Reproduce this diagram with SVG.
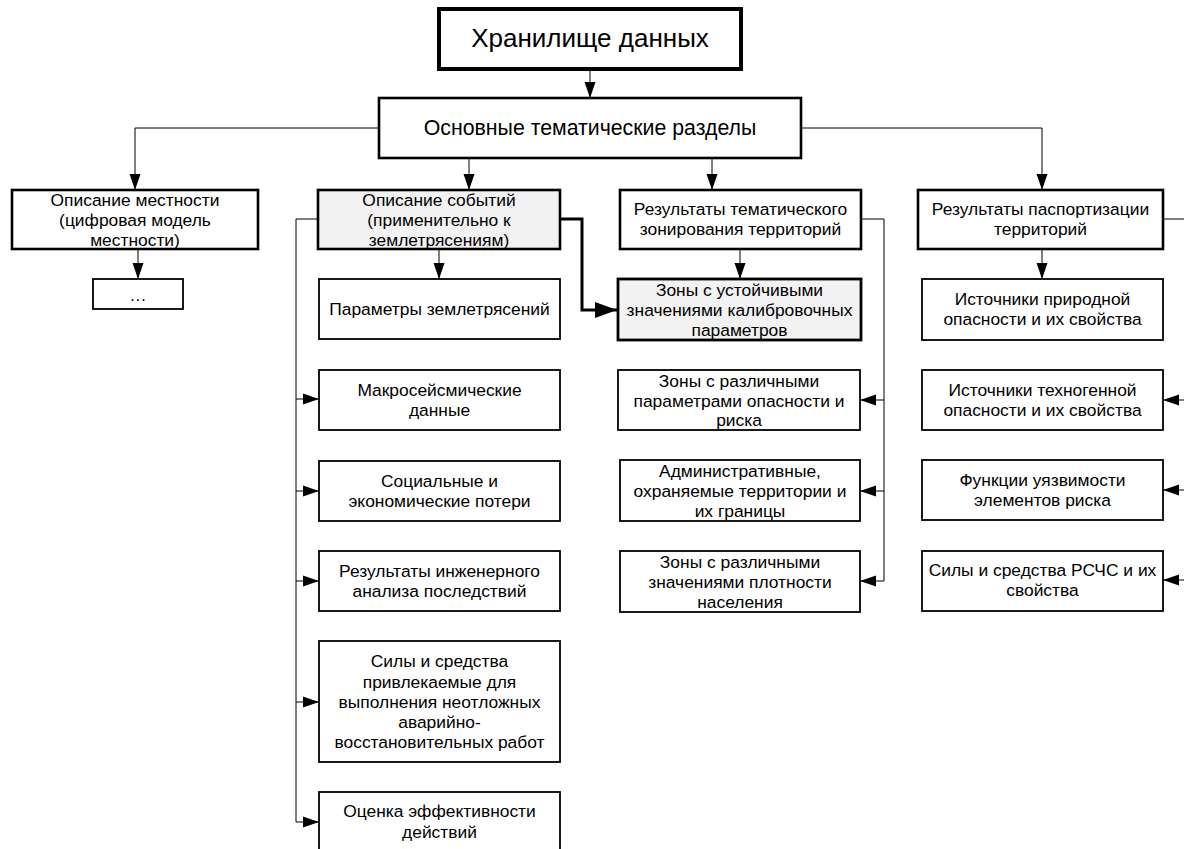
<svg xmlns="http://www.w3.org/2000/svg" width="1184" height="849" viewBox="0 0 1184 849">
<style>
  text { font-family: "Liberation Sans", Arial, sans-serif; fill: #000; text-anchor: middle; }
  .t17 { font-size: 17.4px; }
  .box { fill: #fff; stroke: #000; stroke-width: 1.8; }
  .lvl { fill: #fff; stroke: #000; stroke-width: 2.6; }
  .gray { fill: #f2f2f2; }
  .conn { fill: none; stroke: #000; stroke-width: 1; }
  .thick { fill: none; stroke: #000; stroke-width: 3; }
</style>
<defs>
  <marker id="arr" markerUnits="userSpaceOnUse" markerWidth="16" markerHeight="12" refX="16" refY="6" orient="auto">
    <path d="M0,0.5 L16,6 L0,11.5 z" fill="#000"/>
  </marker>
  <marker id="arrBig" markerUnits="userSpaceOnUse" markerWidth="22" markerHeight="16" refX="22" refY="8" orient="auto">
    <path d="M0,0 L22,8 L0,16 z" fill="#000"/>
  </marker>
</defs>
<rect width="1184" height="849" fill="#fff"/>

<g id="connectors">
  <path class="conn" d="M590,70 V98" marker-end="url(#arr)"/>
  <path class="conn" d="M378,128 H135 V190" marker-end="url(#arr)"/>
  <path class="conn" d="M801,128 H1042 V190" marker-end="url(#arr)"/>
  <path class="conn" d="M469,158 V190" marker-end="url(#arr)"/>
  <path class="conn" d="M712,158 V190" marker-end="url(#arr)"/>
  <path class="conn" d="M138,249 V279" marker-end="url(#arr)"/>
  <path class="conn" d="M439,249 V279" marker-end="url(#arr)"/>
  <path class="conn" d="M740,249 V279" marker-end="url(#arr)"/>
  <path class="conn" d="M1042,249 V279" marker-end="url(#arr)"/>
  <path class="conn" d="M318,219 H296 V822"/>
  <path class="conn" d="M296,399 H319" marker-end="url(#arr)"/>
  <path class="conn" d="M296,491 H319" marker-end="url(#arr)"/>
  <path class="conn" d="M296,581 H319" marker-end="url(#arr)"/>
  <path class="conn" d="M296,702 H319" marker-end="url(#arr)"/>
  <path class="conn" d="M296,822 H319" marker-end="url(#arr)"/>
  <path class="thick" d="M560,219 H582 V310 H617" marker-end="url(#arrBig)"/>
  <path class="conn" d="M861,219 H884 V581"/>
  <path class="conn" d="M884,400 H860" marker-end="url(#arr)"/>
  <path class="conn" d="M884,491 H860" marker-end="url(#arr)"/>
  <path class="conn" d="M884,581 H860" marker-end="url(#arr)"/>
  <path class="conn" d="M1163,219 H1192 V580"/>
  <path class="conn" d="M1192,400 H1163" marker-end="url(#arr)"/>
  <path class="conn" d="M1192,490 H1163" marker-end="url(#arr)"/>
  <path class="conn" d="M1192,580 H1163" marker-end="url(#arr)"/>
</g>

<g id="n-storage">
  <rect x="439" y="9" width="302" height="60" fill="#fff" stroke="#000" stroke-width="4"/>
  <text x="590" y="47" style="font-size:26px">Хранилище данных</text>
</g>
<g id="n-main">
  <rect class="lvl" x="379" y="98" width="422" height="60"/>
  <text x="590" y="135" style="font-size:21.3px">Основные тематические разделы</text>
</g>

<g id="n-terrain">
  <rect class="lvl" x="12" y="190" width="246" height="59"/>
  <text class="t17" x="135" y="206">Описание местности</text>
  <text class="t17" x="135" y="226">(цифровая модель</text>
  <text class="t17" x="135" y="246">местности)</text>
</g>
<g id="n-dots">
  <rect class="box" x="93" y="279" width="90" height="30"/>
  <text class="t17" x="138" y="301">…</text>
</g>

<g id="n-events">
  <rect class="lvl gray" x="318" y="190" width="242" height="59"/>
  <text class="t17" x="439" y="206">Описание событий</text>
  <text class="t17" x="439" y="226">(применительно к</text>
  <text class="t17" x="439" y="246">землетрясениям)</text>
</g>
<g id="n-eq-params">
  <rect class="box" x="319" y="279" width="241" height="60"/>
  <text class="t17" x="439.5" y="315">Параметры землетрясений</text>
</g>
<g id="n-macro">
  <rect class="box" x="319" y="370" width="241" height="60"/>
  <text class="t17" x="439.5" y="395.5">Макросейсмические</text>
  <text class="t17" x="439.5" y="416">данные</text>
</g>
<g id="n-losses">
  <rect class="box" x="319" y="461" width="241" height="60"/>
  <text class="t17" x="439.5" y="487">Социальные и</text>
  <text class="t17" x="439.5" y="507">экономические потери</text>
</g>
<g id="n-eng">
  <rect class="box" x="319" y="551" width="241" height="60"/>
  <text class="t17" x="439.5" y="577">Результаты инженерного</text>
  <text class="t17" x="439.5" y="597">анализа последствий</text>
</g>
<g id="n-forces">
  <rect class="box" x="319" y="641" width="241" height="121"/>
  <text class="t17" x="439.5" y="667">Силы и средства</text>
  <text class="t17" x="439.5" y="687.5">привлекаемые для</text>
  <text class="t17" x="439.5" y="707.5">выполнения неотложных</text>
  <text class="t17" x="439.5" y="727.5">аварийно-</text>
  <text class="t17" x="439.5" y="748">восстановительных работ</text>
</g>
<g id="n-eff">
  <rect class="box" x="319" y="792" width="241" height="62"/>
  <text class="t17" x="439.5" y="817">Оценка эффективности</text>
  <text class="t17" x="439.5" y="838">действий</text>
</g>

<g id="n-zoning">
  <rect class="lvl" x="620" y="190" width="241" height="59"/>
  <text class="t17" x="740.5" y="215">Результаты тематического</text>
  <text class="t17" x="740.5" y="235">зонирования территорий</text>
</g>
<g id="n-calib">
  <rect class="lvl gray" x="618" y="279" width="243" height="61" style="stroke-width:2.8"/>
  <text class="t17" x="739.5" y="296">Зоны с устойчивыми</text>
  <text class="t17" x="739.5" y="316">значениями калибровочных</text>
  <text class="t17" x="739.5" y="335.5">параметров</text>
</g>
<g id="n-hazard">
  <rect class="box" x="618" y="370" width="242" height="60"/>
  <text class="t17" x="739" y="387">Зоны с различными</text>
  <text class="t17" x="739" y="406.5">параметрами опасности и</text>
  <text class="t17" x="739" y="426">риска</text>
</g>
<g id="n-admin">
  <rect class="box" x="620" y="460" width="240" height="61"/>
  <text class="t17" x="740" y="477">Административные,</text>
  <text class="t17" x="740" y="497">охраняемые территории и</text>
  <text class="t17" x="740" y="517">их границы</text>
</g>
<g id="n-density">
  <rect class="box" x="620" y="551" width="240" height="61"/>
  <text class="t17" x="740" y="567.5">Зоны с различными</text>
  <text class="t17" x="740" y="587.5">значениями плотности</text>
  <text class="t17" x="740" y="607.5">населения</text>
</g>

<g id="n-passport">
  <rect class="lvl" x="918" y="190" width="245" height="59"/>
  <text class="t17" x="1040.5" y="215">Результаты паспортизации</text>
  <text class="t17" x="1040.5" y="235">территорий</text>
</g>
<g id="n-natural">
  <rect class="box" x="922" y="279" width="241" height="61"/>
  <text class="t17" x="1042.5" y="305">Источники природной</text>
  <text class="t17" x="1042.5" y="325">опасности и их свойства</text>
</g>
<g id="n-tech">
  <rect class="box" x="922" y="370" width="241" height="60"/>
  <text class="t17" x="1042.5" y="395.5">Источники техногенной</text>
  <text class="t17" x="1042.5" y="416">опасности и их свойства</text>
</g>
<g id="n-vuln">
  <rect class="box" x="922" y="460" width="241" height="60"/>
  <text class="t17" x="1042.5" y="486">Функции уязвимости</text>
  <text class="t17" x="1042.5" y="506">элементов риска</text>
</g>
<g id="n-rschs">
  <rect class="box" x="922" y="551" width="241" height="60"/>
  <text class="t17" x="1042.5" y="576">Силы и средства РСЧС и их</text>
  <text class="t17" x="1042.5" y="596">свойства</text>
</g>
</svg>
